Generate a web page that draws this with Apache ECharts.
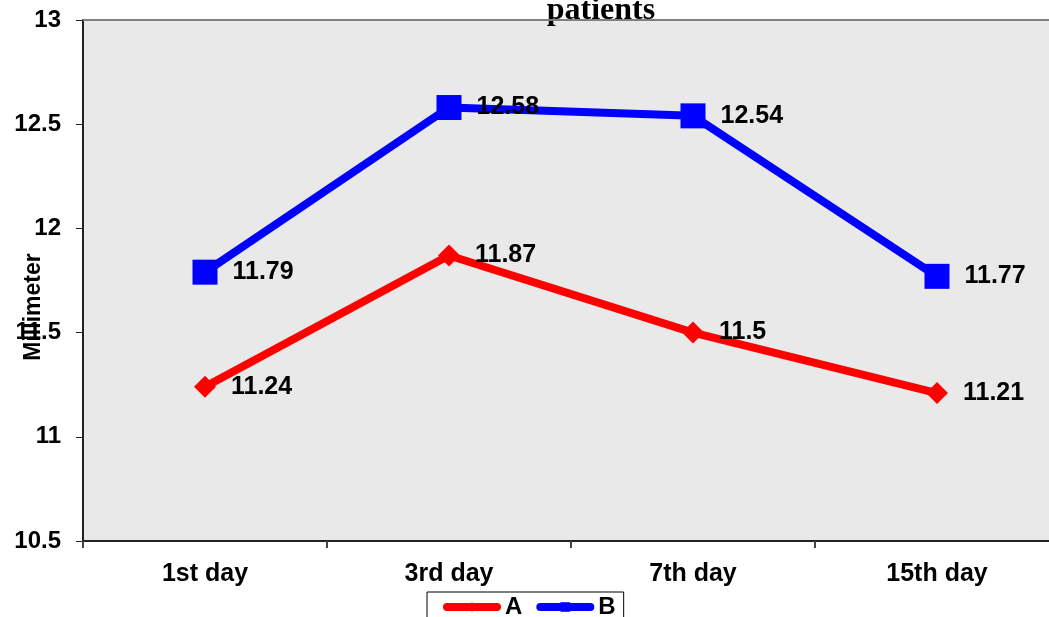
<!DOCTYPE html>
<html>
<head>
<meta charset="utf-8">
<script src="https://cdn.jsdelivr.net/npm/echarts@6/dist/echarts.min.js"></script>
<style>
  html, body { margin: 0; padding: 0; background: #fff; }
  #chart { width: 1049px; height: 617px; }
</style>
</head>
<body>
<div id="chart"></div>
<script>
// Measurement days and mean values for the two groups
const days = ['1st day', '3rd day', '7th day', '15th day'];
const groupA = [11.24, 11.87, 11.5, 11.21];
const groupB = [11.79, 12.58, 12.54, 11.77];
const yTicks = { min: 10.5, max: 13, step: 0.5 };

const SANS = 'Liberation Sans, Arial, sans-serif';
const chart = echarts.init(document.getElementById('chart'), null, { renderer: 'canvas' });

const labelStyle = {
  show: true,
  position: 'right',
  distance: 15,
  color: '#000',
  fontFamily: SANS,
  fontWeight: 'bold',
  fontSize: 25
};

chart.setOption({
  animation: false,
  title: {
    text: 'patients',
    left: 596,
    textAlign: 'center',
    top: -10,
    textStyle: { fontFamily: 'Liberation Serif, Times New Roman, serif', fontWeight: 'bold', fontSize: 32, color: '#000' }
  },
  legend: {
    data: ['A', 'B'],
    left: 427,
    top: 592,
    padding: [3, 8, 6, 16],
    itemGap: 14,
    itemWidth: 50,
    itemHeight: 12,
    lineStyle: { width: 8, cap: 'round' },
    borderColor: '#000',
    borderWidth: 1,
    textStyle: { fontFamily: SANS, fontWeight: 'bold', fontSize: 24, color: '#000', padding: [0, 0, 0, 3] }
  },
  grid: {
    left: 83,
    top: 20,
    width: 976,
    height: 521,
    outerBoundsMode: 'none',
    containLabel: false,
    show: true,
    backgroundColor: '#e9e9e9',
    borderWidth: 0
  },
  xAxis: {
    type: 'category',
    data: days,
    boundaryGap: true,
    axisLine: { lineStyle: { color: '#222', width: 2 } },
    axisTick: { show: true, length: 7, lineStyle: { color: '#444', width: 2 } },
    axisLabel: { margin: 21, color: '#000', fontFamily: SANS, fontWeight: 'bold', fontSize: 25 },
    splitLine: { show: false }
  },
  yAxis: {
    type: 'value',
    min: yTicks.min,
    max: yTicks.max,
    interval: yTicks.step,
    axisLine: { show: true, lineStyle: { color: '#222', width: 2 } },
    axisTick: { show: true, length: 7, lineStyle: { color: '#222', width: 1 } },
    axisLabel: {
      margin: 22,
      color: '#000',
      fontFamily: SANS,
      fontWeight: 'bold',
      fontSize: 24,
      formatter: v => String(Math.round(v * 10) / 10)
    },
    splitLine: { show: false }
  },
  graphic: [
    // gray top edge of the plot area
    {
      type: 'line',
      shape: { x1: 83, y1: 20, x2: 1049, y2: 20 },
      style: { stroke: '#808080', lineWidth: 2 },
      z: 10
    },
    // vertical axis title
    {
      type: 'text',
      x: 34,
      y: 307,
      rotation: Math.PI / 2,
      style: {
        text: 'Millimeter',
        fill: '#000',
        font: 'bold 23px ' + SANS,
        align: 'center',
        verticalAlign: 'middle'
      },
      z: 10
    }
  ],
  series: [
    {
      name: 'A',
      type: 'line',
      data: groupA,
      color: '#ff0000',
      symbol: 'diamond',
      symbolSize: 22,
      lineStyle: { width: 8, color: '#ff0000' },
      itemStyle: { color: '#ff0000' },
      label: labelStyle,
      z: 2
    },
    {
      name: 'B',
      type: 'line',
      data: groupB,
      color: '#0000ff',
      symbol: 'rect',
      symbolSize: 25,
      lineStyle: { width: 8, color: '#0000ff' },
      itemStyle: { color: '#0000ff' },
      label: labelStyle,
      z: 3
    }
  ]
});
</script>
</body>
</html>
